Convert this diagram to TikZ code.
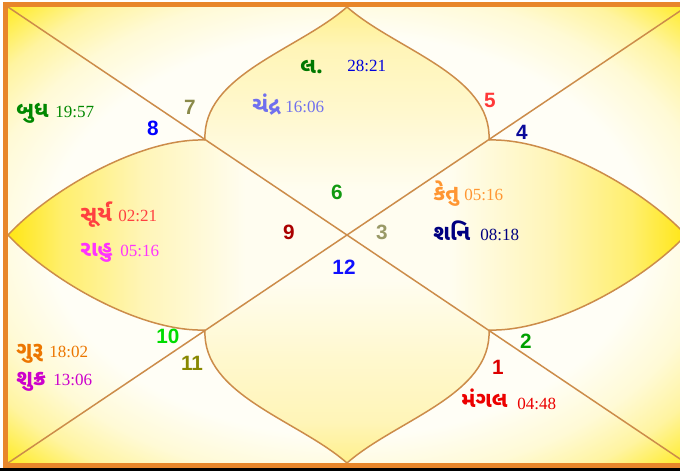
\documentclass[tikz,border=0pt]{standalone}
\usepackage{fontspec}
\usetikzlibrary{calc}
\usepackage{tkz-euclide}
\newfontfamily\gujfont[Script=Gujarati]{Noto Sans Gujarati UI}
\newfontfamily\timefont{Liberation Serif}
\newfontfamily\numfont{Liberation Sans}
\newcommand{\grahaname}[1]{{\gujfont\bfseries\fontsize{12.5}{14}\selectfont #1}}

\definecolor{LineClr}{RGB}{204,140,74}
\definecolor{BorderClr}{RGB}{232,134,42}
\definecolor{GlowIn}{RGB}{255,254,246}
\definecolor{GlowMid}{RGB}{255,250,214}
\definecolor{GlowOut}{RGB}{255,244,160}
\definecolor{GlowCorner}{RGB}{255,236,48}
\definecolor{LotusIn}{RGB}{255,253,240}
\definecolor{LotusPale}{RGB}{255,248,206}
\definecolor{LotusMid}{RGB}{255,245,184}
\definecolor{LotusOut}{RGB}{255,239,110}
\definecolor{LotusTip}{RGB}{255,230,20}
\definecolor{LotusCap}{RGB}{255,240,140}

\definecolor{BudhClr}{RGB}{0,136,0}
\definecolor{LagnaClr}{RGB}{0,120,0}
\definecolor{LagnaTime}{RGB}{0,0,220}
\definecolor{ChandraClr}{RGB}{112,112,238}
\definecolor{SuryaClr}{RGB}{255,64,64}
\definecolor{RahuClr}{RGB}{255,51,255}
\definecolor{KetuClr}{RGB}{255,150,50}
\definecolor{ShaniClr}{RGB}{0,0,128}
\definecolor{GuruClr}{RGB}{236,118,0}
\definecolor{ShukraClr}{RGB}{204,0,204}
\definecolor{MangalClr}{RGB}{236,0,0}

\pgfdeclareradialshading{chartglow}{\pgfpoint{0bp}{0bp}}{color(0bp)=(GlowIn); color(22bp)=(GlowIn); color(27bp)=(GlowMid); color(31bp)=(GlowOut); color(35bp)=(GlowCorner); color(50bp)=(GlowCorner)}
\pgfdeclareverticalshading{lotusside}{100bp}{color(0bp)=(LotusIn); color(40bp)=(LotusIn); color(55bp)=(LotusMid); color(67bp)=(LotusOut); color(75bp)=(LotusTip); color(100bp)=(LotusTip)}
\pgfdeclareverticalshading{lotustop}{100bp}{color(0bp)=(LotusIn); color(35bp)=(LotusIn); color(52bp)=(LotusPale); color(66bp)=(LotusMid); color(75bp)=(LotusCap); color(100bp)=(LotusCap)}

\begin{document}
\begin{tikzpicture}[x=0.02cm,y=-0.02cm,
  petal/.style={draw=LineClr,line width=.85pt},
  house/.style={inner sep=0pt,font=\numfont\bfseries\fontsize{11.8}{12}\selectfont},
  graha/.style={anchor=base west,inner sep=0pt,font=\timefont\fontsize{9.7}{11}\selectfont}]
\useasboundingbox (0,0) rectangle (680,471);

\tkzDefPoints{8/7/A,686/7/B,686/463/C,8/463/D,347/235/O}
\tkzDefPoints{347/7/T,8/235/L,686/235/R,347/463/U}
\tkzDefPoints{205/140/E,489/140/F,489/330/G,205/330/H}

% background and lotus leaves
\shade[shading=chartglow] (A) rectangle (C);
\shade[shading=lotustop] (E) .. controls (202,75) and (298,50) .. (T)
  .. controls (396,50) and (492,75) .. (F) -- (O) -- cycle;
\shade[shading=lotustop,shading angle=180] (H) .. controls (202,395) and (298,420) .. (U)
  .. controls (396,420) and (492,395) .. (G) -- (O) -- cycle;
\shade[shading=lotusside,shading angle=90] (E) .. controls (140,138) and (50,190) .. (L)
  .. controls (50,280) and (140,332) .. (H) -- (O) -- cycle;
\shade[shading=lotusside,shading angle=270] (F) .. controls (554,138) and (644,190) .. (R)
  .. controls (644,280) and (554,332) .. (G) -- (O) -- cycle;

\tkzDrawSegments[color=LineClr,line width=.85pt](A,C B,D)

\draw[petal] (E) .. controls (202,75) and (298,50) .. (T) .. controls (396,50) and (492,75) .. (F);
\draw[petal] (H) .. controls (202,395) and (298,420) .. (U) .. controls (396,420) and (492,395) .. (G);
\draw[petal] (E) .. controls (140,138) and (50,190) .. (L) .. controls (50,280) and (140,332) .. (H);
\draw[petal] (F) .. controls (554,138) and (644,190) .. (R) .. controls (644,280) and (554,332) .. (G);

\draw[BorderClr,line width=2.85pt] (5.5,4.5) rectangle (690,465);
\fill[black] (0,467.5) rectangle (680,471);

% house numbers
\node[house,text={rgb,255:red,220;green,0;blue,0}] (h1) at (498,367) {1};
\node[house,text={rgb,255:red,0;green,160;blue,0}] (h2) at (526,341) {2};
\node[house,text={rgb,255:red,153;green,153;blue,102}] (h3) at (382,232) {3};
\node[house,text={rgb,255:red,10;green,10;blue,154}] (h4) at (522,132) {4};
\node[house,text={rgb,255:red,255;green,56;blue,56}] (h5) at (490,100) {5};
\node[house,text={rgb,255:red,17;green,153;blue,17}] (h6) at (337,192) {6};
\node[house,text={rgb,255:red,138;green,138;blue,74}] (h7) at (190,107) {7};
\node[house,text={rgb,255:red,0;green,0;blue,255}] (h8) at (153,128) {8};
\node[house,text={rgb,255:red,170;green,0;blue,0}] (h9) at (289,232) {9};
\node[house,text={rgb,255:red,0;green,220;blue,0}] (h10) at (168,336) {10};
\node[house,text={rgb,255:red,136;green,136;blue,0}] (h11) at (192,363) {11};
\node[house,text={rgb,255:red,16;green,16;blue,255}] (h12) at (344,267) {12};

% grahas
\node[graha,text=LagnaClr] (lagna) at (300,73) {\grahaname{લ.}};
\node[graha,text=LagnaTime] (lagna-t) at (347,71) {28:21};
\node[graha,text=ChandraClr] (chandra) at (252,112) {\grahaname{ચંદ્ર}};
\node[graha,text=ChandraClr] (chandra-t) at (285,112) {16:06};
\node[graha,text=BudhClr] (budh) at (16,117) {\grahaname{બુધ}};
\node[graha,text=BudhClr] (budh-t) at (55,117) {19:57};
\node[graha,text=SuryaClr] (surya) at (80,221) {\grahaname{સૂર્ય}};
\node[graha,text=SuryaClr] (surya-t) at (118,221) {02:21};
\node[graha,text=RahuClr] (rahu) at (80,256) {\grahaname{રાહુ}};
\node[graha,text=RahuClr] (rahu-t) at (120,256) {05:16};
\node[graha,text=KetuClr] (ketu) at (433,200) {\grahaname{કેતુ}};
\node[graha,text=KetuClr] (ketu-t) at (464,200) {05:16};
\node[graha,text=ShaniClr] (shani) at (433,240) {\grahaname{શનિ}};
\node[graha,text=ShaniClr] (shani-t) at (480,240) {08:18};
\node[graha,text=GuruClr] (guru) at (16,357) {\grahaname{ગુરૂ}};
\node[graha,text=GuruClr] (guru-t) at (49,357) {18:02};
\node[graha,text=ShukraClr] (shukra) at (16,385) {\grahaname{શુક્ર}};
\node[graha,text=ShukraClr] (shukra-t) at (53,385) {13:06};
\node[graha,text=MangalClr] (mangal) at (461,407) {\grahaname{મંગલ}};
\node[graha,text=MangalClr] (mangal-t) at (517,409) {04:48};

\end{tikzpicture}
\end{document}
